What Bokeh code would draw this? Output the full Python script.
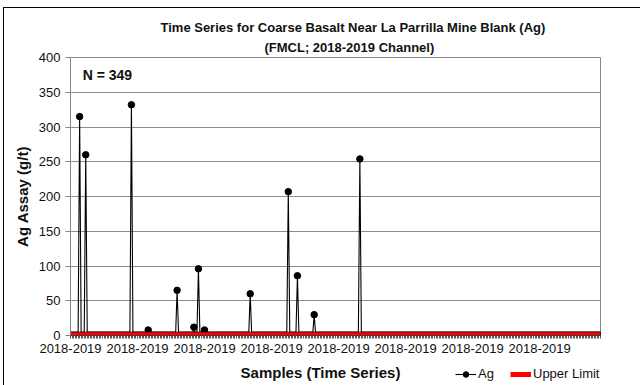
from bokeh.plotting import figure
from bokeh.layouts import column
from bokeh.models import Range1d, FixedTicker, Label, Legend, LegendItem, ColumnDataSource, Title
from bokeh.embed import file_html
from bokeh.resources import INLINE

# ---------------- data ----------------
ag = [
    0.5, 0.5, 0.5, 0.5, 0.5, 0.5, 315, 0.5, 0.5, 0.5, 260, 0.5, 0.5, 0.5, 0.5, 0.5, 0.5, 0.5, 0.5, 0.5,
    0.5, 0.5, 0.5, 0.5, 0.5, 0.5, 0.5, 0.5, 0.5, 0.5, 0.5, 0.5, 0.5, 0.5, 0.5, 0.5, 0.5, 0.5, 0.5, 0.5,
    332, 0.5, 0.5, 0.5, 0.5, 0.5, 0.5, 0.5, 0.5, 0.5, 0.5, 8, 0.5, 0.5, 0.5, 0.5, 0.5, 0.5, 0.5, 0.5,
    0.5, 0.5, 0.5, 0.5, 0.5, 0.5, 0.5, 0.5, 0.5, 0.5, 65, 0.5, 0.5, 0.5, 0.5, 0.5, 0.5, 0.5, 0.5, 0.5,
    0.5, 12, 0.5, 0.5, 96, 0.5, 0.5, 0.5, 8, 0.5, 0.5, 0.5, 0.5, 0.5, 0.5, 0.5, 0.5, 0.5, 0.5, 0.5,
    0.5, 0.5, 0.5, 0.5, 0.5, 0.5, 0.5, 0.5, 0.5, 0.5, 0.5, 0.5, 0.5, 0.5, 0.5, 0.5, 0.5, 0.5, 60, 0.5,
    0.5, 0.5, 0.5, 0.5, 0.5, 0.5, 0.5, 0.5, 0.5, 0.5, 0.5, 0.5, 0.5, 0.5, 0.5, 0.5, 0.5, 0.5, 0.5, 0.5,
    0.5, 0.5, 0.5, 207, 0.5, 0.5, 0.5, 0.5, 0.5, 86, 0.5, 0.5, 0.5, 0.5, 0.5, 0.5, 0.5, 0.5, 0.5, 0.5,
    30, 0.5, 0.5, 0.5, 0.5, 0.5, 0.5, 0.5, 0.5, 0.5, 0.5, 0.5, 0.5, 0.5, 0.5, 0.5, 0.5, 0.5, 0.5, 0.5,
    0.5, 0.5, 0.5, 0.5, 0.5, 0.5, 0.5, 0.5, 0.5, 0.5, 254, 0.5, 0.5, 0.5, 0.5, 0.5, 0.5, 0.5, 0.5, 0.5,
    0.5, 0.5, 0.5, 0.5, 0.5, 0.5, 0.5, 0.5, 0.5, 0.5, 0.5, 0.5, 0.5, 0.5, 0.5, 0.5, 0.5, 0.5, 0.5, 0.5,
    0.5, 0.5, 0.5, 0.5, 0.5, 0.5, 0.5, 0.5, 0.5, 0.5, 0.5, 0.5, 0.5, 0.5, 0.5, 0.5, 0.5, 0.5, 0.5, 0.5,
    0.5, 0.5, 0.5, 0.5, 0.5, 0.5, 0.5, 0.5, 0.5, 0.5, 0.5, 0.5, 0.5, 0.5, 0.5, 0.5, 0.5, 0.5, 0.5, 0.5,
    0.5, 0.5, 0.5, 0.5, 0.5, 0.5, 0.5, 0.5, 0.5, 0.5, 0.5, 0.5, 0.5, 0.5, 0.5, 0.5, 0.5, 0.5, 0.5, 0.5,
    0.5, 0.5, 0.5, 0.5, 0.5, 0.5, 0.5, 0.5, 0.5, 0.5, 0.5, 0.5, 0.5, 0.5, 0.5, 0.5, 0.5, 0.5, 0.5, 0.5,
    0.5, 0.5, 0.5, 0.5, 0.5, 0.5, 0.5, 0.5, 0.5, 0.5, 0.5, 0.5, 0.5, 0.5, 0.5, 0.5, 0.5, 0.5, 0.5, 0.5,
    0.5, 0.5, 0.5, 0.5, 0.5, 0.5, 0.5, 0.5, 0.5, 0.5, 0.5, 0.5, 0.5, 0.5, 0.5, 0.5, 0.5, 0.5, 0.5, 0.5,
    0.5, 0.5, 0.5, 0.5, 0.5, 0.5, 0.5, 0.5, 0.5,
]
sample_index = list(range(len(ag)))
upper_limit_value = 1.0
upper_limit = [upper_limit_value] * len(ag)

x_label_positions = [0, 44, 88, 132, 176, 220, 264, 308]
x_tick_labels = ["2018-2019", "2018-2019", "2018-2019", "2018-2019",
                 "2018-2019", "2018-2019", "2018-2019", "2018-2019"]
y_ticks = [0, 50, 100, 150, 200, 250, 300, 350, 400]

title_line1 = "Time Series for Coarse Basalt Near La Parrilla Mine Blank (Ag)"
title_line2 = "(FMCL; 2018-2019 Channel)"
n_text = "N = 349"
x_title = "Samples (Time Series)"
y_title = "Ag Assay (g/t)"

FONT = "Liberation Sans"
TXT = "#111111"

# ---------------- main figure ----------------
p = figure(width=636, height=352, output_backend="svg", toolbar_location=None,
           x_range=Range1d(0, len(ag) - 1), y_range=Range1d(0, 400),
           min_border_left=66, min_border_right=40, min_border_top=49, min_border_bottom=25)
p.background_fill_color = "white"
p.border_fill_color = "white"
p.outline_line_color = "#868686"
p.outline_line_width = 1

# two-line title
p.title.text = title_line1
p.title.align = "left"
p.title.offset = 90
p.title.text_font = FONT
p.title.text_font_size = "13px"
p.title.text_font_style = "bold"
p.title.text_color = TXT
p.title.standoff = 0
p.add_layout(Title(text=title_line2, align="left", offset=194, text_font=FONT, text_font_size="13px",
                   text_font_style="bold", text_color=TXT, standoff=6), "above")

src = ColumnDataSource(dict(x=sample_index, ag=ag, ul=upper_limit))

ag_line = p.line("x", "ag", source=src, line_color="black", line_width=1.1)
ag_pts = p.scatter("x", "ag", source=src, size=6.5, fill_color="black", line_color="black")
ul_line = p.line("x", "ul", source=src, line_color="#ff0000", line_width=5)

# grid
p.xgrid.visible = False
p.ygrid.ticker = FixedTicker(ticks=y_ticks)
p.ygrid.grid_line_color = "#8c8c8c"
p.ygrid.grid_line_width = 1

# y axis
yax = p.yaxis[0]
yax.ticker = FixedTicker(ticks=y_ticks)
yax.axis_line_color = "#868686"
yax.major_tick_line_color = "#868686"
yax.major_tick_out = 5
yax.major_tick_in = 0
yax.minor_tick_line_color = None
yax.major_label_text_font = FONT
yax.major_label_text_font_size = "13px"
yax.major_label_text_color = TXT
yax.major_label_standoff = 5
yax.axis_label = y_title
yax.axis_label_text_font = FONT
yax.axis_label_text_font_size = "15px"
yax.axis_label_text_font_style = "bold"
yax.axis_label_text_color = TXT
yax.axis_label_standoff = 5

# x axis
xax = p.xaxis[0]
xax.ticker = FixedTicker(ticks=x_label_positions, minor_ticks=sample_index)
xax.major_label_overrides = {pos: lab for pos, lab in zip(x_label_positions, x_tick_labels)}
xax.axis_line_color = "#333333"
xax.major_tick_line_color = "#555555"
xax.minor_tick_line_color = "#555555"
xax.major_tick_out = 3
xax.major_tick_in = 0
xax.minor_tick_out = 3
xax.minor_tick_in = 0
xax.major_label_text_font = FONT
xax.major_label_text_font_size = "13px"
xax.major_label_text_color = TXT
xax.major_label_standoff = 5

p.add_layout(Label(x=8, y=375, text=n_text, text_align="left", text_baseline="middle",
                   text_font=FONT, text_font_size="14px", text_font_style="bold", text_color=TXT))

# ---------------- bottom strip: x-axis title + legend ----------------
# its frame is aligned with the main frame (page x 70..600), so x data units equal page pixels
p2 = figure(width=636, height=25, output_backend="svg", toolbar_location=None,
            x_axis_type=None, y_axis_type=None,
            x_range=Range1d(70, 600), y_range=Range1d(385, 360),
            min_border_left=66, min_border_right=40, min_border_top=0, min_border_bottom=0)
p2.outline_line_color = None
p2.background_fill_color = "white"
p2.border_fill_color = "white"

p2.add_layout(Label(x=320, y=372, text=x_title, text_align="center", text_baseline="middle",
                    text_font=FONT, text_font_size="15px", text_font_style="bold", text_color=TXT))

# legend proxies (same styles as the series in the main plot; NaN so nothing is drawn in the strip)
nan = float("nan")
lg_line = p2.line(x=[nan], y=[nan], line_color="black", line_width=1.1)
lg_pts = p2.scatter(x=[nan], y=[nan], size=6.5, fill_color="black", line_color="black")
lg_ul = p2.line(x=[nan], y=[nan], line_color="#ff0000", line_width=5)

legend = Legend(items=[LegendItem(label="Ag", renderers=[lg_line, lg_pts]),
                       LegendItem(label="Upper Limit", renderers=[lg_ul])],
                location=(385, 4), orientation="horizontal",
                glyph_width=21, glyph_height=14, label_height=14, label_standoff=2, spacing=12,
                padding=0, margin=0, border_line_alpha=0, background_fill_alpha=0,
                label_text_font=FONT, label_text_font_size="13px", label_text_color=TXT)
p2.add_layout(legend)

layout = column(p, p2, spacing=0,
                styles={"border-left": "1px solid #000000", "border-top": "1px solid #000000",
                        "margin-left": "3px", "margin-top": "7px"})

open("out.html", "w").write(file_html(layout, INLINE))
